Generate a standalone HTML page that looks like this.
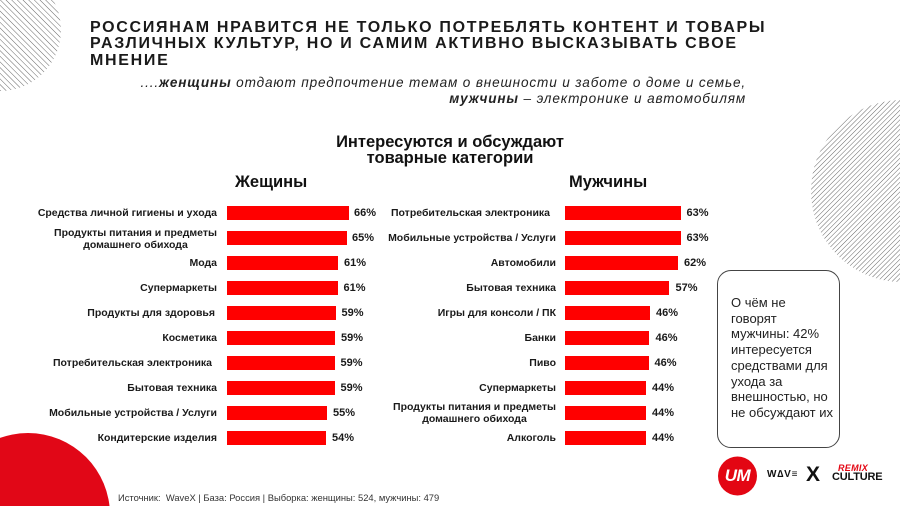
<!DOCTYPE html>
<html><head><meta charset="utf-8">
<style>
*{margin:0;padding:0;box-sizing:border-box}
html,body{width:900px;height:506px;overflow:hidden;background:#fff}
body{position:relative;font-family:"Liberation Sans","DejaVu Sans",sans-serif;color:#1a1a1a}
.abs{position:absolute}
.title{left:90px;top:20px;font-weight:bold;font-size:16px;line-height:16.3px;letter-spacing:1.7px;color:#1a1a1a;white-space:nowrap}
.sub{right:154px;top:75px;font-style:italic;font-size:13.6px;line-height:16px;letter-spacing:0.85px;text-align:right;white-space:nowrap;color:#222}
.ct{left:250px;width:400px;text-align:center;font-weight:bold;font-size:16.5px;line-height:15.5px;top:135px;color:#111}
.gh{font-weight:bold;font-size:16.5px;top:173px;white-space:nowrap;color:#111}
.lab{position:absolute;height:25px;display:flex;align-items:center;justify-content:flex-end;font-weight:bold;font-size:10.5px;line-height:12px;color:#1a1a1a;white-space:nowrap}
.lab span{display:block;text-align:center}
.bar{position:absolute;height:14px;background:#ff0000}
.val{position:absolute;height:25px;line-height:25px;font-weight:bold;font-size:11px;color:#1a1a1a}
.box{left:717px;top:270px;width:123px;height:178px;border:1px solid #444;border-radius:14px}
.boxt{left:731px;top:295px;font-size:13px;line-height:15.7px;color:#222;white-space:nowrap}
.src{left:118px;top:492px;font-size:9.4px;line-height:11px;color:#333;white-space:nowrap}
</style></head><body>

<svg class="abs" style="left:0;top:0" width="900" height="506" viewBox="0 0 900 506">
<defs>
<pattern id="hA" patternUnits="userSpaceOnUse" width="4" height="4" patternTransform="rotate(-45)">
<line x1="0" y1="0" x2="0" y2="4" stroke="#555" stroke-width="0.9"/>
</pattern>
<pattern id="hB" patternUnits="userSpaceOnUse" width="3.4" height="4" patternTransform="rotate(45)">
<line x1="0" y1="0" x2="0" y2="4" stroke="#555" stroke-width="0.9"/>
</pattern>
</defs>
<circle cx="0" cy="30" r="61" fill="url(#hA)"/>
<circle cx="902" cy="191" r="91" fill="url(#hB)"/>
<circle cx="28" cy="515" r="82" fill="#e10717"/>
<circle cx="737.5" cy="476" r="19.5" fill="#e30613"/>
</svg>

<div class="abs title">РОССИЯНАМ НРАВИТСЯ НЕ ТОЛЬКО ПОТРЕБЛЯТЬ КОНТЕНТ И ТОВАРЫ<br>РАЗЛИЧНЫХ КУЛЬТУР, НО И САМИМ АКТИВНО ВЫСКАЗЫВАТЬ СВОЕ<br>МНЕНИЕ</div>

<div class="abs sub">....<b>женщины</b> отдают предпочтение темам о внешности и заботе о доме и семье,<br><b>мужчины</b> – электронике и автомобилям</div>

<div class="abs ct">Интересуются и обсуждают<br>товарные категории</div>
<div class="abs gh" style="left:235px">Жещины</div>
<div class="abs gh" style="left:569px">Мужчины</div>

<!-- Left chart -->
<div class="lab" style="left:0;width:217px;top:200.5px"><span>Средства личной гигиены и ухода</span></div>
<div class="bar" style="left:227px;top:206px;width:122px"></div>
<div class="val" style="left:354px;top:200.5px">66%</div>

<div class="lab" style="left:0;width:217px;top:226px"><span>Продукты питания и предметы<br>домашнего обихода</span></div>
<div class="bar" style="left:227px;top:231px;width:120px"></div>
<div class="val" style="left:352px;top:225.5px">65%</div>

<div class="lab" style="left:0;width:217px;top:250.5px"><span>Мода</span></div>
<div class="bar" style="left:227px;top:256px;width:111px"></div>
<div class="val" style="left:344px;top:250.5px">61%</div>

<div class="lab" style="left:0;width:217px;top:275.5px"><span>Супермаркеты</span></div>
<div class="bar" style="left:227px;top:281px;width:110.5px"></div>
<div class="val" style="left:343.5px;top:275.5px">61%</div>

<div class="lab" style="left:0;width:215px;top:300.5px"><span>Продукты для здоровья</span></div>
<div class="bar" style="left:227px;top:306px;width:108.5px"></div>
<div class="val" style="left:341.5px;top:300.5px">59%</div>

<div class="lab" style="left:0;width:217px;top:325.5px"><span>Косметика</span></div>
<div class="bar" style="left:227px;top:331px;width:108px"></div>
<div class="val" style="left:341px;top:325.5px">59%</div>

<div class="lab" style="left:0;width:212px;top:350.5px"><span>Потребительская электроника</span></div>
<div class="bar" style="left:227px;top:356px;width:107.5px"></div>
<div class="val" style="left:340.5px;top:350.5px">59%</div>

<div class="lab" style="left:0;width:217px;top:375.5px"><span>Бытовая техника</span></div>
<div class="bar" style="left:227px;top:381px;width:107.5px"></div>
<div class="val" style="left:340.5px;top:375.5px">59%</div>

<div class="lab" style="left:0;width:217px;top:400.5px"><span>Мобильные устройства / Услуги</span></div>
<div class="bar" style="left:227px;top:406px;width:100px"></div>
<div class="val" style="left:333px;top:400.5px">55%</div>

<div class="lab" style="left:0;width:217px;top:425.5px"><span>Кондитерские изделия</span></div>
<div class="bar" style="left:227px;top:431px;width:99px"></div>
<div class="val" style="left:332px;top:425.5px">54%</div>

<!-- Right chart -->
<div class="lab" style="left:300px;width:250px;top:200.5px"><span>Потребительская электроника</span></div>
<div class="bar" style="left:565px;top:206px;width:116px"></div>
<div class="val" style="left:686.5px;top:200.5px">63%</div>

<div class="lab" style="left:300px;width:256px;top:225.5px"><span>Мобильные устройства / Услуги</span></div>
<div class="bar" style="left:565px;top:231px;width:116px"></div>
<div class="val" style="left:686.5px;top:225.5px">63%</div>

<div class="lab" style="left:300px;width:256px;top:250.5px"><span>Автомобили</span></div>
<div class="bar" style="left:565px;top:256px;width:113.3px"></div>
<div class="val" style="left:684px;top:250.5px">62%</div>

<div class="lab" style="left:300px;width:256px;top:275.5px"><span>Бытовая техника</span></div>
<div class="bar" style="left:565px;top:281px;width:104.3px"></div>
<div class="val" style="left:675.5px;top:275.5px">57%</div>

<div class="lab" style="left:300px;width:256px;top:300.5px"><span>Игры для консоли / ПК</span></div>
<div class="bar" style="left:565px;top:306px;width:85px"></div>
<div class="val" style="left:656px;top:300.5px">46%</div>

<div class="lab" style="left:300px;width:256px;top:325.5px"><span>Банки</span></div>
<div class="bar" style="left:565px;top:331px;width:84.3px"></div>
<div class="val" style="left:655.5px;top:325.5px">46%</div>

<div class="lab" style="left:300px;width:256px;top:350.5px"><span>Пиво</span></div>
<div class="bar" style="left:565px;top:356px;width:83.7px"></div>
<div class="val" style="left:654.5px;top:350.5px">46%</div>

<div class="lab" style="left:300px;width:256px;top:375.5px"><span>Супермаркеты</span></div>
<div class="bar" style="left:565px;top:381px;width:81px"></div>
<div class="val" style="left:652px;top:375.5px">44%</div>

<div class="lab" style="left:300px;width:256px;top:400.5px"><span>Продукты питания и предметы<br>домашнего обихода</span></div>
<div class="bar" style="left:565px;top:406px;width:81px"></div>
<div class="val" style="left:652px;top:400.5px">44%</div>

<div class="lab" style="left:300px;width:256px;top:425.5px"><span>Алкоголь</span></div>
<div class="bar" style="left:565px;top:431px;width:81px"></div>
<div class="val" style="left:652px;top:425.5px">44%</div>

<!-- Callout box -->
<div class="abs box"></div>
<div class="abs boxt">О чём не<br>говорят<br>мужчины: 42%<br>интересуется<br>средствами для<br>ухода за<br>внешностью, но<br>не обсуждают их</div>

<!-- Logos -->
<div class="abs" style="left:718px;top:466px;width:39px;text-align:center;font-weight:bold;font-style:italic;font-size:17px;line-height:20px;color:#fff;letter-spacing:-0.5px">UM</div>
<div class="abs" style="left:767px;top:469px;font-weight:bold;font-size:10px;line-height:12px;letter-spacing:0.8px;color:#111">W∆V≡</div>
<div class="abs" style="left:806px;top:464px;font-weight:bold;font-size:21px;line-height:22px;color:#111">X</div>
<div class="abs" style="left:838px;top:463px;font-weight:bold;font-style:italic;font-size:9px;line-height:10px;color:#e30613;letter-spacing:0.3px">REMIX</div>
<div class="abs" style="left:832px;top:471px;font-weight:bold;font-size:11px;line-height:12px;color:#111;letter-spacing:-0.2px">CULTURE</div>

<div class="abs src">Источник:&nbsp; WaveX | База: Россия | Выборка: женщины: 524, мужчины: 479</div>

</body></html>
